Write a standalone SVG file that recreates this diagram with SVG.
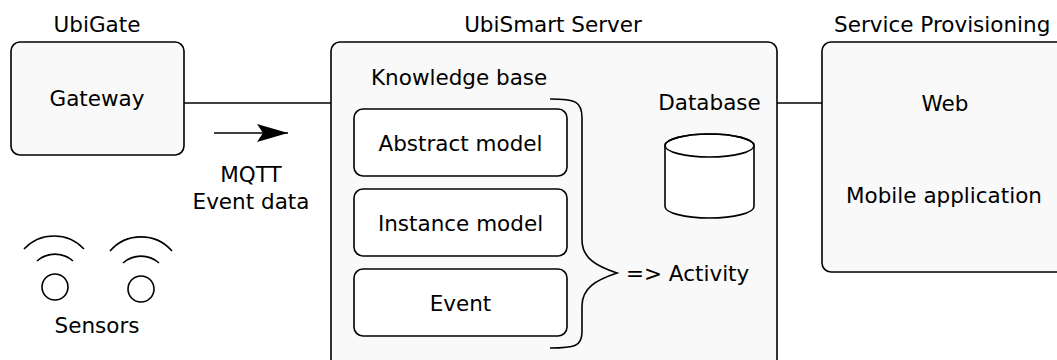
<svg xmlns="http://www.w3.org/2000/svg" width="1057" height="360" viewBox="0 0 1057 360">
<style>
text{font-family:"DejaVu Sans","Liberation Sans",sans-serif;font-size:21.5px;fill:#000}
.c{text-anchor:middle}
.outer{fill:#f9f9f9;stroke:#000;stroke-width:1.6}
.inner{fill:#fff;stroke:#000;stroke-width:1.6}
.ln{fill:none;stroke:#000;stroke-width:1.6}
</style>
<defs>
<marker id="ah" viewBox="0 0 32 20" refX="31" refY="10" markerWidth="32" markerHeight="20" markerUnits="userSpaceOnUse" orient="auto">
<path d="M0,1 L31,10 L0,19 L6,10 Z" fill="#000"/>
</marker>
</defs>
<rect width="1057" height="360" fill="#fff"/>
<g id="connectors">
<line class="ln" x1="184" y1="103" x2="331" y2="103"/>
<line class="ln" x1="777" y1="103" x2="822" y2="103"/>
<line class="ln" x1="214" y1="133" x2="288" y2="133" marker-end="url(#ah)"/>
<text class="c" x="251" y="182">MQTT</text>
<text class="c" x="251" y="209">Event data</text>
</g>
<g id="ubigate">
<text class="c" x="97" y="32">UbiGate</text>
<rect class="outer" x="11" y="42" width="173" height="113" rx="9"/>
<text class="c" x="97" y="106">Gateway</text>
</g>
<g id="sensors">
<path class="ln" d="M24,249 A41,41 0 0 1 84,249"/>
<path class="ln" d="M37,261 A27,27 0 0 1 73,261"/>
<circle class="ln" cx="55" cy="287" r="13"/>
<path class="ln" d="M110,251 A41,41 0 0 1 172,251"/>
<path class="ln" d="M123,263 A27,27 0 0 1 159,263"/>
<circle class="ln" cx="141" cy="289" r="13"/>
<text class="c" x="97" y="333">Sensors</text>
</g>
<g id="server">
<text class="c" x="553" y="32">UbiSmart Server</text>
<rect class="outer" x="331" y="42" width="446" height="340" rx="9"/>
</g>
<g id="knowledge-base">
<text x="371" y="85">Knowledge base</text>
<path class="ln" d="M550,99 C575,99 582,101 582,118 L582,240 C582,258 596,266 617,273 C596,280 582,288 582,306 L582,332 C582,346 575,348 550,348"/>
</g>
<g id="abstract-model">
<rect class="inner" x="354" y="109" width="213" height="67" rx="9"/>
<text class="c" x="460.5" y="151">Abstract model</text>
</g>
<g id="instance-model">
<rect class="inner" x="354" y="189" width="213" height="67" rx="9"/>
<text class="c" x="460.5" y="231">Instance model</text>
</g>
<g id="event">
<rect class="inner" x="354" y="269" width="213" height="67" rx="9"/>
<text class="c" x="460.5" y="311">Event</text>
</g>
<g id="activity">
<text x="626" y="281">=&gt; Activity</text>
</g>
<g id="database">
<text class="c" x="709.5" y="110">Database</text>
<path class="inner" d="M665,145.5 L665,206.5 A44.5,11.5 0 0 0 754,206.5 L754,145.5 A44.5,11.5 0 0 0 665,145.5 Z"/>
<ellipse class="ln" cx="709.5" cy="145.5" rx="44.5" ry="11.5"/>
</g>
<g id="service-provisioning">
<text x="834" y="32">Service Provisioning</text>
<rect class="outer" x="822" y="42" width="260" height="230" rx="9"/>
<text class="c" x="945" y="111">Web</text>
<text class="c" x="944" y="203">Mobile application</text>
</g>
</svg>
